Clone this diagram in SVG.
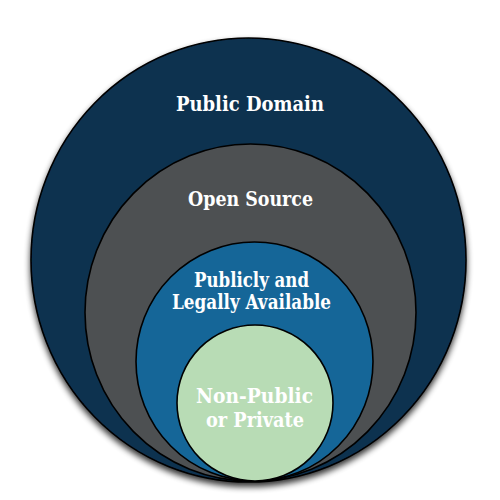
<svg xmlns="http://www.w3.org/2000/svg" width="500" height="500" viewBox="0 0 500 500">
<defs>
<filter id="sh" x="-10%" y="-10%" width="120%" height="125%">
<feGaussianBlur in="SourceAlpha" stdDeviation="3"/>
<feOffset dx="0" dy="4" result="b"/>
<feComponentTransfer><feFuncA type="linear" slope="0.8"/></feComponentTransfer>
<feMerge><feMergeNode/><feMergeNode in="SourceGraphic"/></feMerge>
</filter>
</defs>
<style>
.c{stroke:#000;stroke-width:1.6}
.t{font-family:"DejaVu Serif","Liberation Serif",serif;font-weight:bold;fill:#fff;text-anchor:middle;font-size:20px}
</style>
<rect width="500" height="500" fill="#fff"/>
<g id="public-domain">
<ellipse class="c" cx="248.5" cy="260" rx="217.5" ry="222" fill="#0d3050" filter="url(#sh)"/>
<text class="t" x="250" y="111" textLength="148" lengthAdjust="spacingAndGlyphs">Public Domain</text>
</g>
<g id="open-source">
<ellipse class="c" cx="250.5" cy="312.5" rx="165.5" ry="168.5" fill="#4d5052"/>
<text class="t" x="250.5" y="206" textLength="125" lengthAdjust="spacingAndGlyphs">Open Source</text>
</g>
<g id="publicly-legally-available">
<ellipse class="c" cx="254.5" cy="361.5" rx="118.5" ry="119.5" fill="#156698"/>
<text class="t" x="251.5" y="287" textLength="115" lengthAdjust="spacingAndGlyphs">Publicly and</text>
<text class="t" x="251.5" y="309" textLength="159" lengthAdjust="spacingAndGlyphs">Legally Available</text>
</g>
<g id="non-public-private">
<ellipse class="c" cx="255" cy="403" rx="78" ry="78" fill="#b8dcb5"/>
<text class="t" x="254.5" y="403" textLength="117" lengthAdjust="spacingAndGlyphs">Non-Public</text>
<text class="t" x="255" y="427" textLength="98" lengthAdjust="spacingAndGlyphs">or Private</text>
</g>
</svg>
